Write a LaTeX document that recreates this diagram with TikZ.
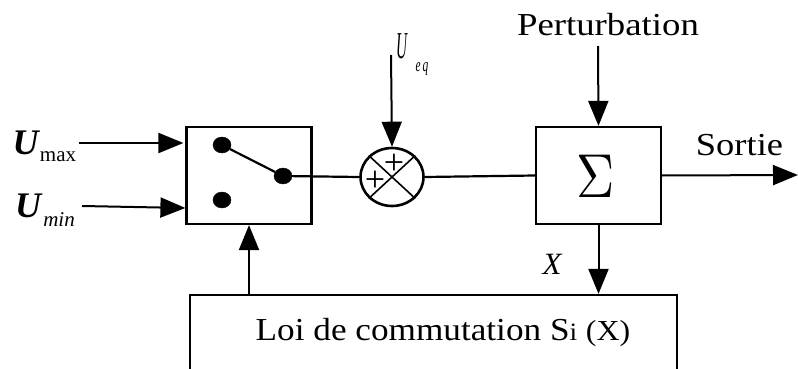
\documentclass[tikz,border=0pt]{standalone}
\usepackage{fontspec}
\usepackage{amsmath}
\setmainfont{Liberation Serif}
\usetikzlibrary{arrows.meta,shapes.geometric,calc}
\tikzset{
	bloc/.style={draw, line width=2.2pt, minimum width=125pt, minimum height=97pt, inner sep=0pt},
	plot/.style={draw, fill=black, ellipse, minimum width=18pt, minimum height=16pt, inner sep=0pt},
	fleche/.style={line width=2pt, -{Triangle[length=25pt,width=20pt]}},
	trait/.style={line width=2.2pt},
	txt/.style={inner sep=0pt, font=\fontsize{32}{32}\selectfont},
	petit/.style={inner sep=0pt, font=\fontsize{21}{21}\selectfont},
	grandu/.style={inner sep=0pt, font=\fontsize{36}{36}\selectfont\itshape\bfseries},
	signe/.style={inner sep=0pt, font=\fontsize{36}{36}\selectfont}
}
\begin{document}
\begin{tikzpicture}[x=1pt,y=-1pt]
		\useasboundingbox (0,0) rectangle (798,369);
		\clip (0,0) rectangle (798,369);
		% blocs
		\node[bloc] (switch) at (249,175.5) {};
		\node[bloc] (sigma) at (598.5,175.5) {};
		\node[inner sep=0pt, xscale=5.3, yscale=6.2] (sigmalab) at (596,176.5) {$\Sigma$};
		\node[draw, line width=2.2pt, minimum width=487pt, minimum height=110pt, inner sep=0pt] (loi) at (433.5,350) {};
		\node[draw, ellipse, line width=2.6pt, minimum width=63pt, minimum height=58pt, inner sep=0pt] (sum) at (392,177) {};
		\draw[line width=1.6pt] (sum.north west) -- (sum.south east);
		\draw[line width=1.6pt] (sum.south west) -- (sum.north east);
		\node[signe] (p1) at (394,164) {+};
		\node[signe] (p2) at (375,181) {+};
		% interrupteur
		\node[plot] (d1) at (222,145) {};
		\node[plot] (d2) at (222,200) {};
		\node[plot] (d3) at (283,176) {};
		\draw[trait] (d1) -- (d3);
		% textes
		\node[txt, xscale=1.15] (pert) at (608,25) {Perturbation};
		\node[txt, xscale=1.14] (sortie) at (739.5,145) {Sortie};
		\node[txt, font=\fontsize{31}{31}\selectfont\itshape] (xlab) at (552,264) {X};
		\node[txt, xscale=1.1] (loitxt) at (443,332) {Loi de commutation S\raisebox{0pt}{\fontsize{25}{25}\selectfont i} {\fontsize{29}{29}\selectfont (X)}};
		\node[grandu] (umax) at (25.5,143) {U};
		\node[petit] (maxlab) at (58,157) {max};
		\node[grandu] (umin) at (28,206) {U};
		\node[petit, font=\fontsize{21}{21}\selectfont\itshape] (minlab) at (59,220) {min};
		\node[inner sep=0pt, xscale=0.4, font=\fontsize{38}{38}\selectfont\itshape] (ueq) at (402,46) {U};
		\node[inner sep=0pt, xscale=0.6, font=\fontsize{19}{19}\selectfont\itshape] (eqlab) at (422,69) {e\,q};
		% liaisons
		\coordinate (a1) at (79,143);
		\coordinate (a2) at (82,206);
		\coordinate (a3) at (391,55);
		\coordinate (a4) at (598,46);
		\coordinate (a5) at (798,175);
		\draw[fleche, shorten >=2pt] (a1) -- (switch.west |- a1);
		\draw[fleche] (a2) -- ($(switch.west)+(0,32.5)$);
		\draw[fleche] (loi.north -| switch) -- (switch.south);
		\draw[fleche] (a3) -- (sum.north);
		\draw[trait] (d3) -- (sum.west);
		\draw[trait] (sum.east) -- (sigma.west);
		\draw[fleche] (sigma.east) -- (a5);
		\draw[fleche] (a4) -- (sigma.north);
		\draw[fleche] (sigma.south) -- (sigma.south |- loi.north);
	\end{tikzpicture}
\end{document}
